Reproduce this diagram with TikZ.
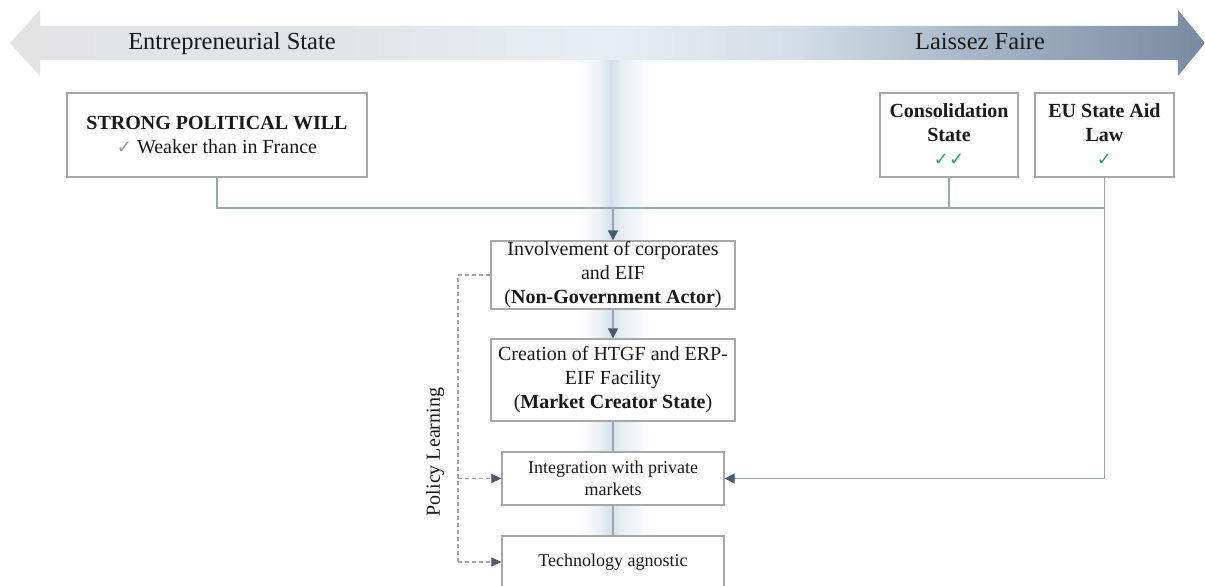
\documentclass[tikz,border=0pt]{standalone}
\usepackage{fontspec}
\setmainfont{Liberation Serif}
\newfontfamily\symfont{DejaVu Sans}
\usetikzlibrary{arrows.meta}

\definecolor{bnA}{HTML}{E3E3E4}
\definecolor{bnB}{HTML}{E2E5E8}
\definecolor{bnC}{HTML}{E8EEF4}
\definecolor{bnD}{HTML}{D2DDE7}
\definecolor{bnE}{HTML}{A3B3C4}
\definecolor{bnF}{HTML}{778BA1}
\definecolor{glowc}{HTML}{D3E0EB}
\definecolor{boxline}{HTML}{A8A8A8}
\definecolor{connline}{HTML}{98A6B6}
\definecolor{tipcol}{HTML}{4A5A6E}
\definecolor{txt}{HTML}{1A1A1A}
\definecolor{okgreen}{HTML}{2EA65A}
\definecolor{okgray}{HTML}{9A9A9A}
\definecolor{dashcol}{HTML}{A4A4A4}

% left-to-right tint of the spectrum arrow
\pgfdeclarehorizontalshading{bannershade}{100bp}{%
  color(0bp)=(bnA); color(25bp)=(bnA); color(39bp)=(bnB);
  color(50bp)=(bnC); color(58bp)=(bnD); color(66bp)=(bnE);
  color(75bp)=(bnF); color(100bp)=(bnF)}

% soft glow, brightest slightly left of centre
\pgfdeclarehorizontalshading{glowshade}{100bp}{%
  color(0bp)=(white); color(25bp)=(white); color(40bp)=(glowc!45);
  color(48bp)=(glowc); color(54bp)=(glowc!60); color(75bp)=(white);
  color(100bp)=(white)}

\newcommand{\tick}[1]{{\symfont\fontsize{18}{18}\selectfont\color{#1}✓}}

\tikzset{
  x=1pt, y=-1pt,
  box/.style={draw=boxline, line width=1.3pt, fill=white, align=center,
    inner sep=0pt, text=txt, font=\fontsize{20}{24}\selectfont},
  smallbox/.style={box, font=\fontsize{18}{22}\selectfont},
  conn/.style={draw=connline, line width=1.4pt},
  arr/.style={conn, -{Triangle[length=10pt,width=10pt,color=tipcol]}},
  learn/.style={draw=dashcol, line width=1.1pt, dash pattern=on 4pt off 3pt},
  learnarr/.style={learn, -{Triangle[length=10pt,width=9pt,color=tipcol]}},
  banner/.style={font=\fontsize{24.5}{28}\selectfont, text=txt, inner sep=0pt}
}

\begin{document}
\begin{tikzpicture}
\useasboundingbox (0,0) rectangle (1205,586);
\clip (0,0) rectangle (1205,586);
\fill[white] (0,0) rectangle (1205,586);

% soft vertical glow behind the central column
\shade[shading=glowshade] (578,60) rectangle (650,586);

% double-headed spectrum arrow
\shade[shading=bannershade]
  (10,43) -- (40,10) -- (40,26) -- (1178,26) -- (1178,10) -- (1205,43)
  -- (1178,76) -- (1178,60) -- (40,60) -- (40,76) -- cycle;
\node[banner, anchor=base] (es) at (232,50) {Entrepreneurial State};
\node[banner, anchor=base] (lf) at (980,50) {Laissez Faire};

% upper boxes
\node[box, minimum width=300pt, minimum height=84pt] (spw) at (217,135)
  {\textbf{STRONG POLITICAL WILL}\\\tick{okgray} Weaker than in France};
\node[box, minimum width=138pt, minimum height=84pt] (cons) at (949,135)
  {\textbf{Consolidation}\\\textbf{State}\\\tick{okgreen}\tick{okgreen}};
\node[box, minimum width=139pt, minimum height=84pt] (eu) at (1104.5,135)
  {\textbf{EU State Aid}\\\textbf{Law}\\\tick{okgreen}};

% central chain
\node[box, minimum width=244pt, minimum height=68pt] (inv) at (613,275)
  {Involvement of corporates\\and EIF\\(\textbf{Non-Government Actor})};
\node[box, minimum width=244pt, minimum height=82pt] (cre) at (613,380)
  {Creation of HTGF and ERP-\\EIF Facility\\(\textbf{Market Creator State})};
\node[smallbox, minimum width=222pt, minimum height=53pt] (integ) at (613,478.5)
  {Integration with private\\markets};
\node[smallbox, minimum width=222pt, minimum height=52pt] (tech) at (613,562)
  {Technology agnostic};

\node[rotate=90, inner sep=0pt, text=txt, font=\fontsize{20}{24}\selectfont]
  (pl) at (435,452) {Policy Learning};

% joining bus under the upper boxes
\coordinate (j) at (613,208);
\draw[conn] (spw.south) |- (eu.south |- j);
\draw[conn] (cons.south) -- (cons.south |- j);
\draw[arr] (eu.south) |- (integ.east);
\draw[arr] (j) -- (inv.north);
\draw[arr] (inv.south) -- (cre.north);
\draw[conn] (cre.south) -- (integ.north);
\draw[conn] (integ.south) -- (tech.north);

% policy learning feedback
\coordinate (dl) at (458,562);
\draw[learn] (inv.west) -| (dl);
\draw[learnarr] (dl) -- (tech.west);
\draw[learnarr] (dl |- integ.west) -- (integ.west);
\end{tikzpicture}
\end{document}
